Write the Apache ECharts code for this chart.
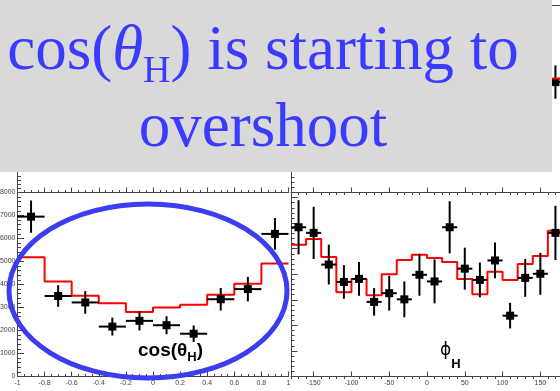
<!DOCTYPE html>
<html><head><meta charset="utf-8">
<script src="https://cdn.jsdelivr.net/npm/echarts@6/dist/echarts.min.js"></script>
<style>html,body{margin:0;padding:0;background:#fff}#c{width:560px;height:391px}</style>
</head><body><div id="c"></div>
<script>
// ---- cos(theta_H) panel ----
const cosEdges   = [-1, -0.8, -0.6, -0.4, -0.2, 0, 0.2, 0.4, 0.6, 0.8, 1];
const cosCenters = [-0.9, -0.7, -0.5, -0.3, -0.1, 0.1, 0.3, 0.5, 0.7, 0.9];
const cosData    = [6950, 3500, 3220, 2170, 2420, 2230, 1860, 3360, 3800, 6200];
const cosErr     = [700, 470, 490, 390, 420, 390, 360, 490, 530, 690];
const cosMC      = [5190, 4130, 3510, 3190, 2800, 3000, 3120, 3550, 4030, 4910];

// ---- phi_H panel ----
const phiEdges   = [-180, -160, -140, -120, -100, -80, -60, -40, -20, 0, 20, 40, 60, 80, 100, 120, 140, 160, 180];
const phiCenters = [-170, -150, -130, -110, -90, -70, -50, -30, -10, 10, 30, 50, 70, 90, 110, 130, 150, 170];
const phiData    = [2920, 2810, 2190, 1850, 1910, 1460, 1630, 1510, 1990, 1860, 2920, 2110, 1890, 2270, 1190, 1930, 2010, 2810];
const phiErr     = [530, 510, 390, 330, 330, 270, 340, 350, 410, 430, 510, 410, 340, 350, 250, 370, 410, 530];
const phiMC      = [2580, 2690, 2340, 1650, 1910, 1590, 2000, 2280, 2380, 2320, 2240, 1910, 1610, 2050, 1890, 2200, 2360, 2850];

// ---- upper-right panel (only its last bin is visible) ----
const upCenters = [170];
const upData    = [2120];
const upErr     = [320];
const upEdges   = [160, 180];
const upMC      = [2190];

// ---- tick values ----
const phiMajorTicks = [-150, -100, -50, 0, 50, 100, 150];
const phiMinorTicks = [-180, -170, -160, -140, -130, -120, -110, -90, -80, -70, -60, -40, -30, -20, -10,
                       10, 20, 30, 40, 60, 70, 80, 90, 110, 120, 130, 140, 160, 170, 180];

const AX = '#444';
const chart = echarts.init(document.getElementById('c'), null, {renderer: 'canvas'});

function stepData(edges, vals) {
  return edges.map((e, i) => [e, vals[Math.min(i, vals.length - 1)]]);
}
function pts(c, v, e) { return c.map((x, i) => [x, v[i], e[i]]); }
function errRender(halfW) {
  return function (params, api) {
    const x = api.value(0), y = api.value(1), e = api.value(2);
    const t = api.coord([x, y + e]), b = api.coord([x, y - e]);
    const l = api.coord([x - halfW, y]), r = api.coord([x + halfW, y]);
    const c = api.coord([x, y]);
    return {type: 'group', children: [
      {type: 'line', shape: {x1: t[0], y1: t[1], x2: b[0], y2: b[1]}, style: {stroke: '#000', lineWidth: 2}},
      {type: 'line', shape: {x1: l[0], y1: l[1], x2: r[0], y2: r[1]}, style: {stroke: '#000', lineWidth: 2}},
      {type: 'rect', shape: {x: c[0] - 4, y: c[1] - 4, width: 8, height: 8}, style: {fill: '#000'}}
    ]};
  };
}
const plainNum = v => String(v);
function xVal(grid, min, max, interval, labels) {
  return {
    type: 'value', gridIndex: grid, min: min, max: max, interval: interval,
    axisLine: {show: true, onZero: false, lineStyle: {color: AX, width: 1}},
    axisTick: {show: true, inside: true, length: 5, lineStyle: {color: AX}},
    minorTick: {show: true, splitNumber: 4, length: 2.5, lineStyle: {color: AX}},
    axisLabel: {show: labels, fontSize: 7, color: '#444', margin: 3, fontFamily: 'Liberation Sans', formatter: plainNum},
    splitLine: {show: false}, minorSplitLine: {show: false}
  };
}
function yVal(grid, min, max, interval, labels) {
  return {
    type: 'value', gridIndex: grid, min: min, max: max, interval: interval,
    axisLine: {show: true, onZero: false, lineStyle: {color: AX, width: 1}},
    axisTick: {show: true, inside: true, length: 6.5, lineStyle: {color: AX}},
    minorTick: {show: true, splitNumber: 5, length: 3.5, lineStyle: {color: AX}},
    axisLabel: {show: labels, fontSize: 7, color: '#444', margin: 2, fontFamily: 'Liberation Sans',
                formatter: plainNum, showMaxLabel: true},
    splitLine: {show: false}, minorSplitLine: {show: false}
  };
}
function phiMajorAxis(grid, labels) {
  return {
    type: 'value', gridIndex: grid, min: -180, max: 180,
    axisLine: {show: true, onZero: false, lineStyle: {color: AX, width: 1}},
    axisTick: {show: true, inside: true, length: 5, customValues: phiMajorTicks, lineStyle: {color: AX}},
    axisLabel: {show: labels, customValues: phiMajorTicks, fontSize: 7, color: '#444', margin: 3,
                fontFamily: 'Liberation Sans', formatter: plainNum},
    splitLine: {show: false}
  };
}
function phiMinorAxis(grid) {
  return {
    type: 'value', gridIndex: grid, min: -180, max: 180,
    axisLine: {show: false},
    axisTick: {show: true, inside: true, length: 2.5, customValues: phiMinorTicks, lineStyle: {color: AX}},
    axisLabel: {show: false},
    splitLine: {show: false}
  };
}

const gridBase = {containLabel: false, outerBoundsMode: 'none'};
const option = {
  animation: false,
  backgroundColor: '#fff',
  grid: [
    Object.assign({left: 17.5, top: 192.5, width: 271, height: 184}, gridBase),
    Object.assign({left: 291, top: 192.5, width: 272, height: 184}, gridBase),
    Object.assign({left: 17.5, top: 5, width: 271, height: 187.5}, gridBase),
    Object.assign({left: 291, top: 5, width: 272, height: 187.5}, gridBase)
  ],
  xAxis: [
    xVal(0, -1, 1, 0.2, true),            // 0
    phiMajorAxis(1, true),                // 1
    phiMinorAxis(1),                      // 2
    xVal(2, -1, 1, 0.2, false),           // 3
    phiMajorAxis(3, false),               // 4
    phiMinorAxis(3),                      // 5
    {type: 'value', gridIndex: 3, min: -180, max: 180, position: 'top',
     axisLine: {show: true, lineStyle: {color: AX}}, axisTick: {show: false},
     axisLabel: {show: false}, splitLine: {show: false}}   // 6 (frame top)
  ],
  yAxis: [
    yVal(0, 0, 8000, 1000, true),
    yVal(1, 0, 3600, 500, false),
    yVal(2, 0, 9000, 1000, false),
    yVal(3, 0, 3600, 500, false)
  ],
  series: [
    {type: 'line', xAxisIndex: 0, yAxisIndex: 0, step: 'end', showSymbol: false, symbol: 'none',
     data: stepData(cosEdges, cosMC), lineStyle: {color: '#f00', width: 2}, z: 2},
    {type: 'custom', xAxisIndex: 0, yAxisIndex: 0, renderItem: errRender((cosEdges[1] - cosEdges[0]) / 2),
     data: pts(cosCenters, cosData, cosErr), z: 3},
    {type: 'line', xAxisIndex: 1, yAxisIndex: 1, step: 'end', showSymbol: false, symbol: 'none',
     data: stepData(phiEdges, phiMC), lineStyle: {color: '#f00', width: 2}, z: 2},
    {type: 'custom', xAxisIndex: 1, yAxisIndex: 1, renderItem: errRender((phiEdges[1] - phiEdges[0]) / 2),
     data: pts(phiCenters, phiData, phiErr), z: 3},
    {type: 'line', xAxisIndex: 4, yAxisIndex: 3, step: 'end', showSymbol: false, symbol: 'none',
     data: stepData(upEdges, upMC), lineStyle: {color: '#f00', width: 2}, z: 4},
    {type: 'custom', xAxisIndex: 4, yAxisIndex: 3, renderItem: errRender(10),
     data: pts(upCenters, upData, upErr), z: 3}
  ],
  graphic: [
    {type: 'ellipse', shape: {cx: 148, cy: 291, rx: 139, ry: 87}, z: 50,
     style: {fill: 'none', stroke: '#3c3cf0', lineWidth: 5}},
    {type: 'text', left: 138, top: 341, z: 60,
     style: {text: '{m|cos(θ}{s|H}{m|)}', fill: '#000',
       rich: {
         m: {fontFamily: 'Liberation Sans', fontWeight: 'bold', fontSize: 19, lineHeight: 26, fill: '#000'},
         s: {fontFamily: 'Liberation Sans', fontWeight: 'bold', fontSize: 13, lineHeight: 13, verticalAlign: 'bottom', fill: '#000'}
       }}},
    {type: 'text', left: 440, top: 342, z: 60,
     style: {text: '{p|ϕ}{s|H}', fill: '#000',
       rich: {
         p: {fontFamily: 'DejaVu Sans', fontSize: 17, lineHeight: 40, fill: '#000'},
         s: {fontFamily: 'Liberation Sans', fontWeight: 'bold', fontSize: 13, lineHeight: 13, verticalAlign: 'bottom', fill: '#000'}
       }}},
    {type: 'rect', shape: {x: 0, y: 0, width: 552, height: 172}, z: 100,
     style: {fill: '#d9d9d9'}},
    {type: 'text', x: 263, y: 14, z: 101,
     style: {text: '{a|cos(}{b|θ}{c|H}{a|) is starting to}\n{a|overshoot}',
       align: 'center', verticalAlign: 'top', fill: '#3b3bff',
       rich: {
         a: {fontFamily: 'Liberation Serif', fontSize: 63, lineHeight: 77, fill: '#3b3bff', align: 'center'},
         b: {fontFamily: 'Liberation Serif', fontStyle: 'italic', fontSize: 63, lineHeight: 77, fill: '#3b3bff'},
         c: {fontFamily: 'Liberation Serif', fontSize: 38, lineHeight: 18, verticalAlign: 'bottom', fill: '#3b3bff'}
       }}}
  ]
};
chart.setOption(option);
</script>
</body></html>
